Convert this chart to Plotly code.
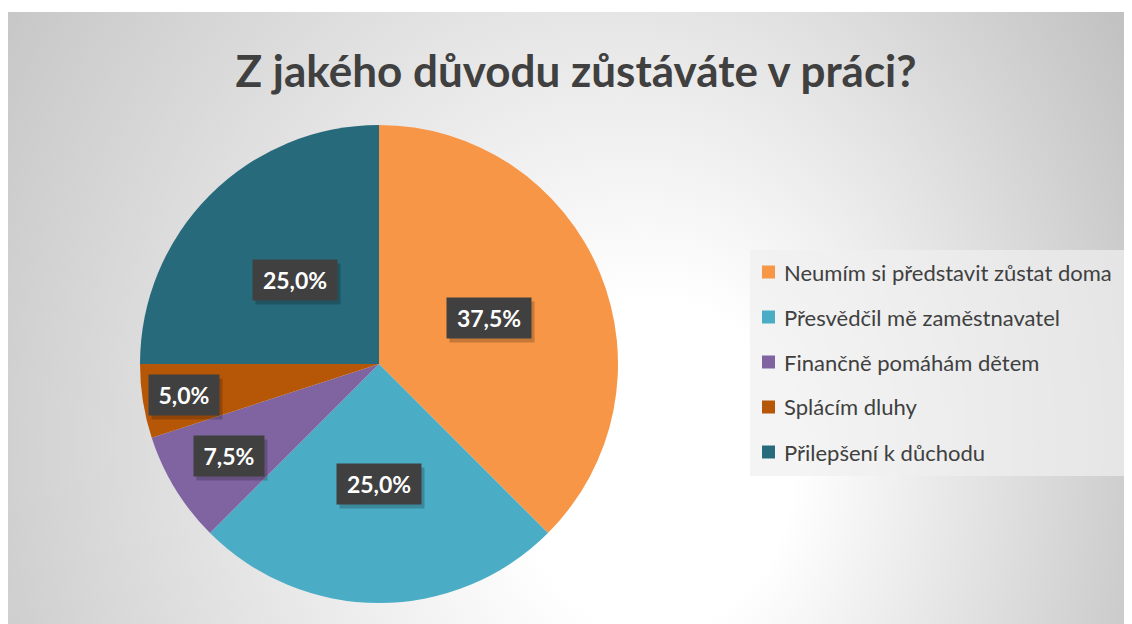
import base64
import numpy as np
import plotly.graph_objects as go

# data
labels = ["Neumím si představit zůstat doma", "Přesvědčil mě zaměstnavatel",
          "Finančně pomáhám dětem", "Splácím dluhy", "Přilepšení k důchodu"]
values = [37.5, 25.0, 7.5, 5.0, 25.0]
colors = ["#F79646", "#4BACC6", "#8064A2", "#B65708", "#276A7C"]
label_text = ["37,5%", "25,0%", "7,5%", "5,0%", "25,0%"]

# layout helpers (pixels, page has 8px body margin)
W, H = 1132, 624
cx, cy, R = 371, 356, 239
label_pos = [0.5, 0.5, 0.735, 0.825, 0.5]   # radial position of the data labels

# hintergrund: radialer Verlauf als SVG
svg = f"""<svg xmlns='http://www.w3.org/2000/svg' width='{W}' height='{H}'>
<defs><radialGradient id='g' gradientUnits='userSpaceOnUse' cx='520' cy='420' r='680' fx='680' fy='460'
 gradientTransform='translate(520 420) scale(1 1.2) translate(-520 -420)'>
<stop offset='0' stop-color='#ffffff'/><stop offset='0.2' stop-color='#ffffff'/>
<stop offset='1' stop-color='#c2c2c2'/></radialGradient></defs>
<rect x='0' y='4' width='{W}' height='{H - 4}' fill='url(#g)'/></svg>"""
bg_src = "data:image/svg+xml;base64," + base64.b64encode(svg.encode()).decode()

fig = go.Figure()

fig.add_trace(go.Pie(
    labels=labels,
    values=values,
    marker=dict(colors=colors, line=dict(width=0)),
    sort=False,
    direction="clockwise",
    rotation=0,
    textinfo="none",
    hoverinfo="label+percent",
    showlegend=False,
    domain=dict(x=[(cx - R) / W, (cx + R) / W], y=[1 - (cy + R) / H, 1 - (cy - R) / H]),
))

# Datenbeschriftungen
annotations = []
total = sum(values)
cum = 0
for v, t, p in zip(values, label_text, label_pos):
    theta = 2 * np.pi * (cum + v / 2) / total
    cum += v
    px = cx + R * p * np.sin(theta)
    py = cy - R * p * np.cos(theta)
    bw = 84 if len(t) > 4 else 70
    # Schatten
    annotations.append(dict(x=px / W, y=1 - py / H, xref="paper", yref="paper",
                            xanchor="center", yanchor="middle",
                            text="", showarrow=False, width=bw, height=40, borderpad=0,
                            bgcolor="rgba(0,0,0,0.2)", xshift=3, yshift=-4))
    annotations.append(dict(x=px / W, y=1 - py / H, xref="paper", yref="paper",
                            xanchor="center", yanchor="middle",
                            text=f"<b>{t}</b>", showarrow=False, width=bw, height=40, borderpad=0,
                            bgcolor="#404040",
                            font=dict(family="Lato", size=23, color="white")))

# Legende (eigene Zeichnung)
shapes = [dict(type="rect", xref="paper", yref="paper",
               x0=742 / W, x1=1119 / W, y0=1 - 468 / H, y1=1 - 242 / H,
               fillcolor="rgba(240,240,240,0.7)", line_width=0, layer="below")]
for i, (lab, col) in enumerate(zip(labels, colors)):
    yc = 264 + i * 45
    shapes.append(dict(type="rect", xref="paper", yref="paper",
                       x0=754 / W, x1=767 / W, y0=1 - (yc + 6.5) / H, y1=1 - (yc - 6.5) / H,
                       fillcolor=col, line_width=0))
    annotations.append(dict(x=774 / W, y=1 - yc / H, xref="paper", yref="paper",
                            text=lab, showarrow=False, xanchor="left", yanchor="middle",
                            font=dict(family="Lato", size=22, color="#404040")))

fig.update_layout(
    width=W, height=H,
    margin=dict(l=0, r=0, t=0, b=0),
    paper_bgcolor="white",
    plot_bgcolor="rgba(0,0,0,0)",
    title=dict(text="<b>Z jakého důvodu zůstáváte v práci?</b>",
               x=568 / W, y=1 - 64 / H, xanchor="center", yanchor="middle",
               font=dict(family="Lato", size=44, color="#404040")),
    images=[dict(source=bg_src, xref="paper", yref="paper", x=0, y=1,
                 sizex=1, sizey=1, sizing="stretch", layer="below",
                 xanchor="left", yanchor="top")],
    shapes=shapes,
    annotations=annotations,
)

fig.write_html("out.html")
